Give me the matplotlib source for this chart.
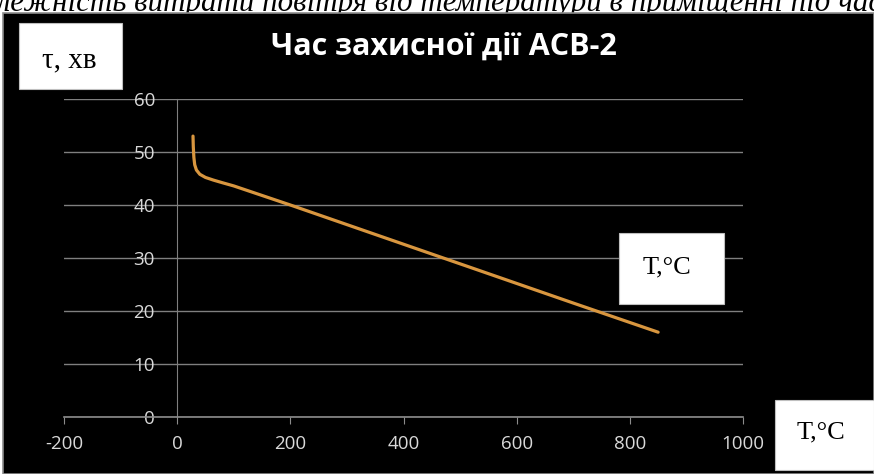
import matplotlib.pyplot as plt
from matplotlib.patches import Rectangle
import numpy as np

plt.rcParams['axes.unicode_minus'] = False

# температура, °C  і  час захисної дії, хв
temp = [28, 28.5, 29.5, 31, 34, 40, 50, 64, 80, 100, 150, 200, 300, 400, 500, 600, 700, 850]
tau = [53.0, 51.0, 49.0, 47.6, 46.6, 45.8, 45.2, 44.7, 44.2, 43.6, 41.8, 40.0, 36.3, 32.6, 28.9, 25.2, 21.5, 16.0]

x_ticks = [-200, 0, 200, 400, 600, 800, 1000]
y_ticks = [0, 10, 20, 30, 40, 50, 60]

title = "Час захисної дії АСВ-2"
top_caption = "лежність витрати повітря від температури в приміщенні під час"

W, H = 874, 474
fig = plt.figure(figsize=(W / 100, H / 100), dpi=100)
fig.patch.set_facecolor('white')

def fx(px):
    return px / W

def fy(py):
    return (H - py) / H

# підпис зверху (обрізаний краєм, як на оригіналі)
fig.text(-0.004, fy(11), top_caption, family='Liberation Serif', style='italic',
         fontsize=22.3, ha='left', va='baseline', color='black', zorder=0.5)

# чорне тло діаграми
fig.patches.append(Rectangle((fx(3), 0), 1 - fx(3), fy(13), transform=fig.transFigure,
                             facecolor='black', edgecolor='#8c8c8c', linewidth=1.2, zorder=1))

ax = fig.add_axes([fx(64), fy(417), fx(743) - fx(64), fy(99) - fy(417)], zorder=2)
ax.set_facecolor('none')
ax.plot(temp, tau, color='#d8963f', linewidth=2.3, solid_capstyle='round')

ax.set_xlim(-200, 1000)
ax.set_ylim(0, 60)
ax.set_xticks(x_ticks)
ax.set_yticks(y_ticks)
ax.grid(axis='y', color='#7f7f7f', linewidth=1.0)
ax.set_axisbelow(True)

for s in ['top', 'right']:
    ax.spines[s].set_visible(False)
ax.spines['left'].set_position(('data', 0))
ax.spines['left'].set_color('#7f7f7f')
ax.spines['bottom'].set_color('#8c8c8c')
ax.spines['bottom'].set_linewidth(1.2)

ax.tick_params(axis='x', direction='out', length=5, color='#8c8c8c', pad=8,
               labelcolor='#d9d9d9', labelsize=13.5)
ax.tick_params(axis='y', length=0, pad=16, labelcolor='#d9d9d9', labelsize=13.5)
for lab in ax.get_xticklabels() + ax.get_yticklabels():
    lab.set_family('Open Sans')

fig.text(fx(444), fy(47), title, family='Open Sans', fontweight='bold', fontsize=22,
         color='white', ha='center', va='center', zorder=3)

# білі підписи-вставки
boxes = [((19, 23, 122, 89), "τ, хв", (69, 67), 21),
         ((619, 233, 724, 304), "T,°C", (667, 273), 19),
         ((775, 400, 874, 470), "T,°C", (821, 438), 19)]
for (x0, y0, x1, y1), txt, (tx, ty), fs in boxes:
    fig.patches.append(Rectangle((fx(x0), fy(y1)), fx(x1) - fx(x0), fy(y0) - fy(y1),
                                 transform=fig.transFigure, facecolor='white',
                                 edgecolor='#bfbfbf', linewidth=0.8, zorder=3))
    fig.text(fx(tx), fy(ty), txt, family='Liberation Serif', fontsize=fs,
             ha='center', va='baseline', color='black', zorder=4)

fig.savefig('out.png', dpi=100)
